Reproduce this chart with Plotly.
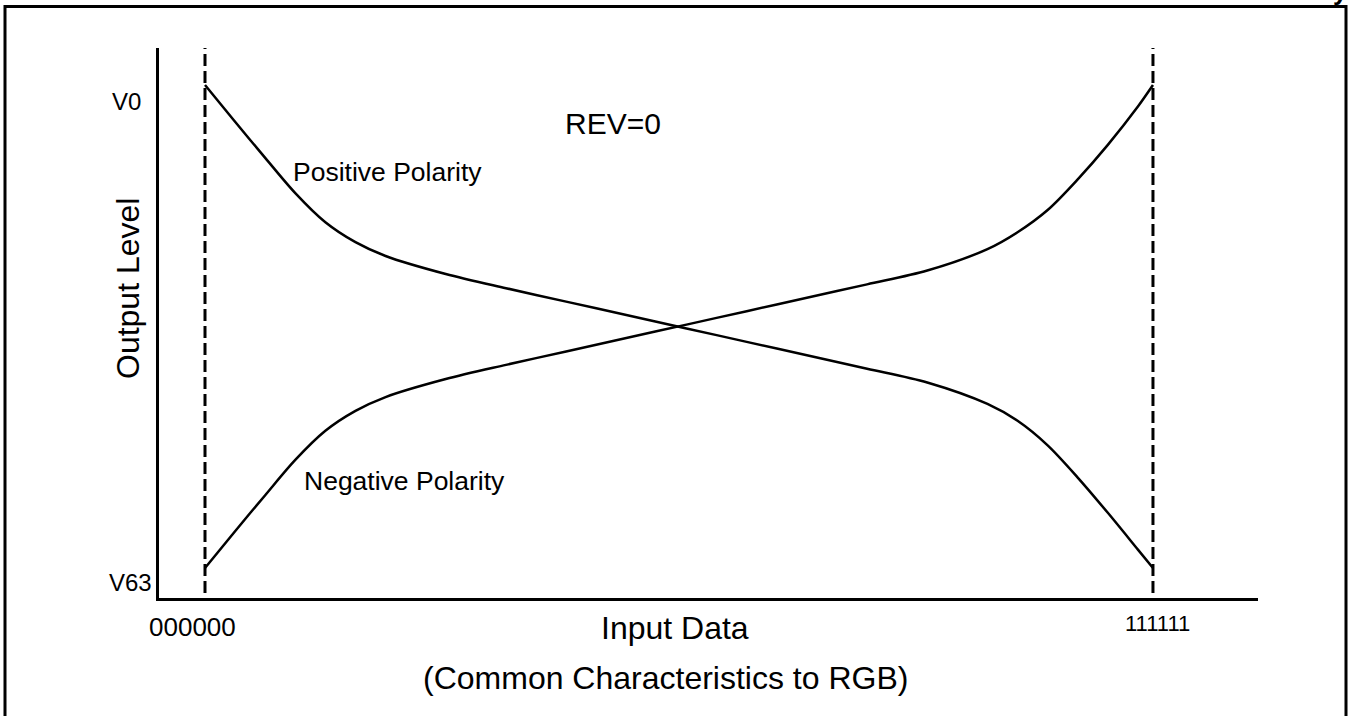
import plotly.graph_objects as go

# Input code (000000 .. 111111 as 0..63) and output level index (V0 = 0 .. V63 = 63)
codes = [0, 2, 4, 6, 8, 10, 12, 16, 20, 24, 28, 32, 36, 40, 44, 48, 52, 54, 56, 58, 60, 62, 63]
positive_level = [0.0, 4.8, 9.5, 14.1, 17.9, 20.5, 22.3, 24.65, 26.5, 28.25, 30.0, 31.75,
                  33.5, 35.25, 37.0, 38.8, 41.6, 43.8, 47.0, 51.2, 55.8, 60.6, 63.0]
negative_level = [63.0, 58.2, 53.5, 48.9, 45.1, 42.5, 40.7, 38.35, 36.5, 34.75, 33.0, 31.25,
                  29.5, 27.75, 26.0, 24.2, 21.4, 19.2, 16.3, 12.3, 7.8, 2.8, 0.0]

code_min, code_max = 0, 63
x_tick_labels = ["000000", "111111"]
y_tick_labels = ["V0", "V63"]

W, H = 1353, 716
FONT = "Liberation Sans, Arial, sans-serif"


def px(x):
    return x / W


def py(y):
    return 1 - y / H


fig = go.Figure()

line_style = dict(color="black", width=2.5, shape="spline", smoothing=0.9)
fig.add_trace(go.Scatter(x=codes, y=positive_level, mode="lines", line=line_style,
                         name="Positive Polarity", hoverinfo="skip"))
fig.add_trace(go.Scatter(x=codes, y=negative_level, mode="lines", line=line_style,
                         name="Negative Polarity", hoverinfo="skip"))

# dashed guides at the first and last input code
for c in (code_min, code_max):
    fig.add_shape(type="line", xref="x", yref="paper", x0=c, x1=c,
                  y0=py(593), y1=py(48),
                  line=dict(color="black", width=3, dash="12px,5px"))

# outer frame
fig.add_shape(type="rect", xref="paper", yref="paper",
              x0=px(5), x1=px(1346), y0=-0.1, y1=py(6.5),
              line=dict(color="black", width=3), fillcolor="rgba(0,0,0,0)")


def note(text, x, y, size, angle=0, bold=False, xanchor="center", yanchor="middle"):
    fig.add_annotation(text=f"<b>{text}</b>" if bold else text,
                       xref="paper", yref="paper", x=px(x), y=py(y),
                       xanchor=xanchor, yanchor=yanchor,
                       showarrow=False, textangle=angle,
                       font=dict(family=FONT, size=size, color="black"))


note(y_tick_labels[0], 126, 101, 24)
note(y_tick_labels[1], 130, 582, 24)
note(x_tick_labels[0], 192, 627, 26)
note(x_tick_labels[1], 1157, 623, 22)
note("Input Data", 675, 628, 32)
note("(Common Characteristics to RGB)", 665, 678, 32)
note("Output Level", 128, 289, 32, angle=-90)
note("REV=0", 613, 124, 30)
note("Positive Polarity", 387, 172, 26.5)
note("Negative Polarity", 404, 481, 26.5)
note("y", 1340, 8, 26, bold=True, yanchor="bottom")

fig.update_layout(
    width=W, height=H,
    margin=dict(l=0, r=0, t=0, b=0),
    paper_bgcolor="white", plot_bgcolor="white",
    showlegend=False,
    xaxis=dict(domain=[159 / W, 1258 / W], range=[-3.057, 69.98],
               showline=True, linecolor="black", linewidth=2.5,
               showgrid=False, zeroline=False, showticklabels=False, ticks=""),
    yaxis=dict(domain=[py(598), py(48)], range=[66.91, -4.83],
               showline=True, linecolor="black", linewidth=2.5,
               showgrid=False, zeroline=False, showticklabels=False, ticks=""),
)

fig.write_html("out.html")
